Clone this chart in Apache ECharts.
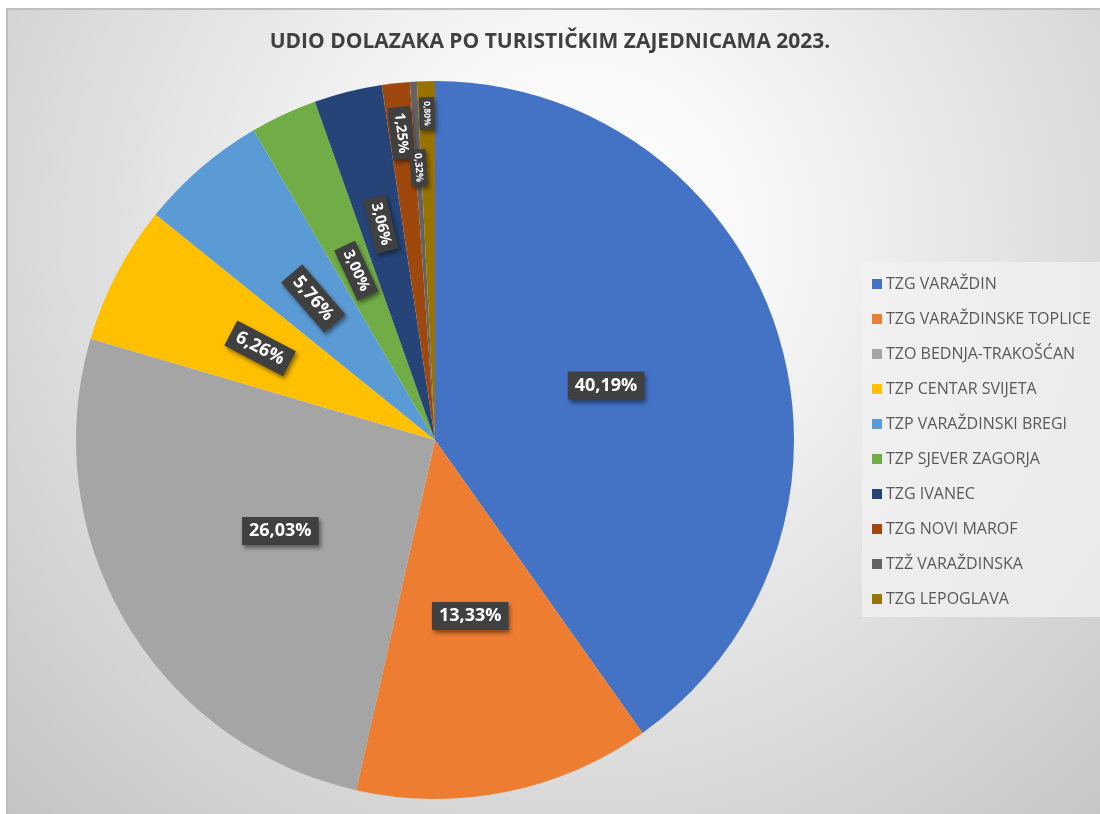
<!DOCTYPE html>
<html>
<head>
<meta charset="utf-8">
<script src="https://cdn.jsdelivr.net/npm/echarts@6/dist/echarts.min.js"></script>
<style>
    html, body { margin: 0; padding: 0; background: #fff; }
    #bg {
        position: absolute; left: 6px; top: 8px; right: 0; bottom: 0;
        border-top: 2px solid #bfbfbf; border-left: 2px solid #bfbfbf;
        background: radial-gradient(ellipse farthest-corner at 52% 28%, #ffffff 0%, #f8f8f8 22%, #c4c4c4 100%);
    }
    #main { position: absolute; left: 0; top: 0; width: 1100px; height: 814px; }
</style>
</head>
<body>
<div id="bg"></div>
<div id="main"></div>
<script>
var names = ['TZG VARAŽDIN', 'TZG VARAŽDINSKE TOPLICE', 'TZO BEDNJA-TRAKOŠĆAN', 'TZP CENTAR SVIJETA',
    'TZP VARAŽDINSKI BREGI', 'TZP SJEVER ZAGORJA', 'TZG IVANEC', 'TZG NOVI MAROF', 'TZŽ VARAŽDINSKA', 'TZG LEPOGLAVA'];
var shares = [40.19, 13.33, 26.03, 6.26, 5.76, 3.00, 3.06, 1.25, 0.32, 0.80];
var colors = ['#4472C4', '#ED7D31', '#A5A5A5', '#FFC000', '#5B9BD5', '#70AD47', '#264478', '#9E480E', '#636363', '#997300'];

// label styling for the narrow slices (Excel labels were dragged outwards)
var labelSize = [18, 18, 18, 18, 18, 15, 15, 14, 10, 8.5];
var labelRadial = [false, false, false, true, true, true, true, true, true, true];
var labelDist = [0.5, 0.5, 0.5, 0.55, 0.52, 0.52, 0.62, 0.86, 0.76, 0.91];

var cx = 435, cy = 440, R = 359;

var total = 0;
shares.forEach(function (v) { total += v; });
var midAngle = [];
var acc = 0;
shares.forEach(function (v) {
    midAngle.push((acc + v / 2) / total * Math.PI * 2);
    acc += v;
});

var data = [];
for (var i = 0; i < names.length; i++) {
    var small = labelSize[i] < 12;
    data.push({
        name: names[i],
        value: shares[i],
        itemStyle: {color: colors[i]},
        label: {
            rotate: labelRadial[i] ? 'radial' : 0,
            fontSize: labelSize[i],
            padding: small ? [3, 4] : (labelSize[i] < 16 ? [4, 6] : [5, 7])
        }
    });
}

var chart = echarts.init(document.getElementById('main'));
var option = {
    title: {
        text: 'UDIO DOLAZAKA PO TURISTIČKIM ZAJEDNICAMA 2023.',
        left: 'center',
        top: 27,
        textStyle: {
            fontFamily: 'Open Sans',
            fontSize: 21,
            fontWeight: 'bold',
            color: '#404040'
        }
    },
    legend: {
        orient: 'vertical',
        left: 862,
        top: 262,
        padding: [12, 12, 8, 10],
        backgroundColor: 'rgba(242,242,242,0.75)',
        itemWidth: 10,
        itemHeight: 10,
        itemGap: 15,
        icon: 'rect',
        textStyle: {
            fontFamily: 'Open Sans',
            fontSize: 16,
            color: '#595959',
            lineHeight: 20,
            padding: [0, 0, 0, -1]
        },
        data: names
    },
    series: [{
        type: 'pie',
        center: [cx, cy],
        radius: [0, R],
        startAngle: 90,
        clockwise: true,
        avoidLabelOverlap: false,
        emphasis: {disabled: true},
        itemStyle: {borderWidth: 0},
        label: {
            show: true,
            position: 'inside',
            formatter: function (p) {
                return p.value.toFixed(2).replace('.', ',') + '%';
            },
            fontFamily: 'Open Sans',
            fontWeight: 'bold',
            color: '#ffffff',
            backgroundColor: '#404040',
            shadowColor: 'rgba(0,0,0,0.45)',
            shadowBlur: 4,
            shadowOffsetX: 2,
            shadowOffsetY: 3
        },
        labelLine: {show: false},
        data: data
    }]
};
option.series[0].labelLayout = function (params) {
    var i = params.dataIndex;
    var a = midAngle[i];
    return {
        x: cx + labelDist[i] * R * Math.sin(a),
        y: cy - labelDist[i] * R * Math.cos(a)
    };
};
chart.setOption(option);
</script>
</body>
</html>
